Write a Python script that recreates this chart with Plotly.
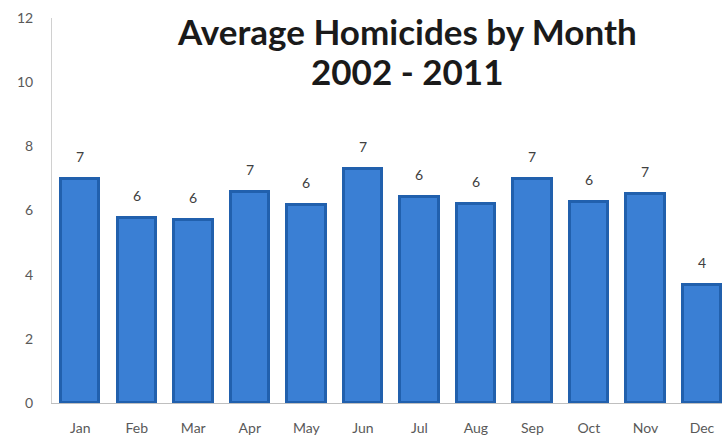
import plotly.graph_objects as go

# Average homicides per calendar month, 2002-2011
months = ["Jan", "Feb", "Mar", "Apr", "May", "Jun",
          "Jul", "Aug", "Sep", "Oct", "Nov", "Dec"]
avg_homicides = [6.97, 5.77, 5.70, 6.57, 6.16, 7.28,
                 6.42, 6.19, 6.97, 6.27, 6.52, 3.69]
y_ticks = [0, 2, 4, 6, 8, 10, 12]
title_lines = ["Average Homicides by Month", "2002 - 2011"]

font_family = "Lato, 'Open Sans', sans-serif"
idx = list(range(len(months)))

fig = go.Figure()

# Blue bars with a darker bevelled rim
fig.add_trace(go.Bar(
    x=idx, y=avg_homicides, width=0.68,
    marker=dict(color="#3a7fd4", line=dict(width=3, color="#2160ad")),
    hovertemplate="%{text}: %{y:.2f}<extra></extra>",
    text=months, textposition="none", showlegend=False,
))

# Rounded value labels above each bar
for i, v in zip(idx, avg_homicides):
    fig.add_annotation(
        x=i, y=v, text=f"{v:.0f}", showarrow=False,
        yanchor="bottom", yshift=12,
        font=dict(family=font_family, size=14, color="#404040"),
    )

# Two-line chart title
for line, ypos in zip(title_lines, [0.966, 0.862]):
    fig.add_annotation(
        xref="paper", yref="paper", x=0.53, y=ypos,
        xanchor="center", yanchor="middle", showarrow=False,
        text=f"<b>{line}</b>",
        font=dict(family=font_family, size=35, color="#1a1a1a"),
    )

fig.update_layout(
    width=722, height=440,
    margin=dict(l=52, r=0, t=18, b=37),
    paper_bgcolor="white", plot_bgcolor="white",
    bargap=0,
    xaxis=dict(
        range=[-0.5, 11.355], tickmode="array", tickvals=idx, ticktext=months,
        showgrid=False, zeroline=False, showline=True, linecolor="#bfbfbf",
        ticks="", ticklabelstandoff=12,
        tickfont=dict(family=font_family, size=14, color="#595959"),
    ),
    yaxis=dict(
        range=[0, 12], tickmode="array", tickvals=y_ticks,
        showgrid=False, zeroline=False, showline=True, linecolor="#d0d0d0",
        ticks="", ticklabelstandoff=15,
        tickfont=dict(family=font_family, size=14, color="#595959"),
    ),
)

fig.write_html("out.html")
